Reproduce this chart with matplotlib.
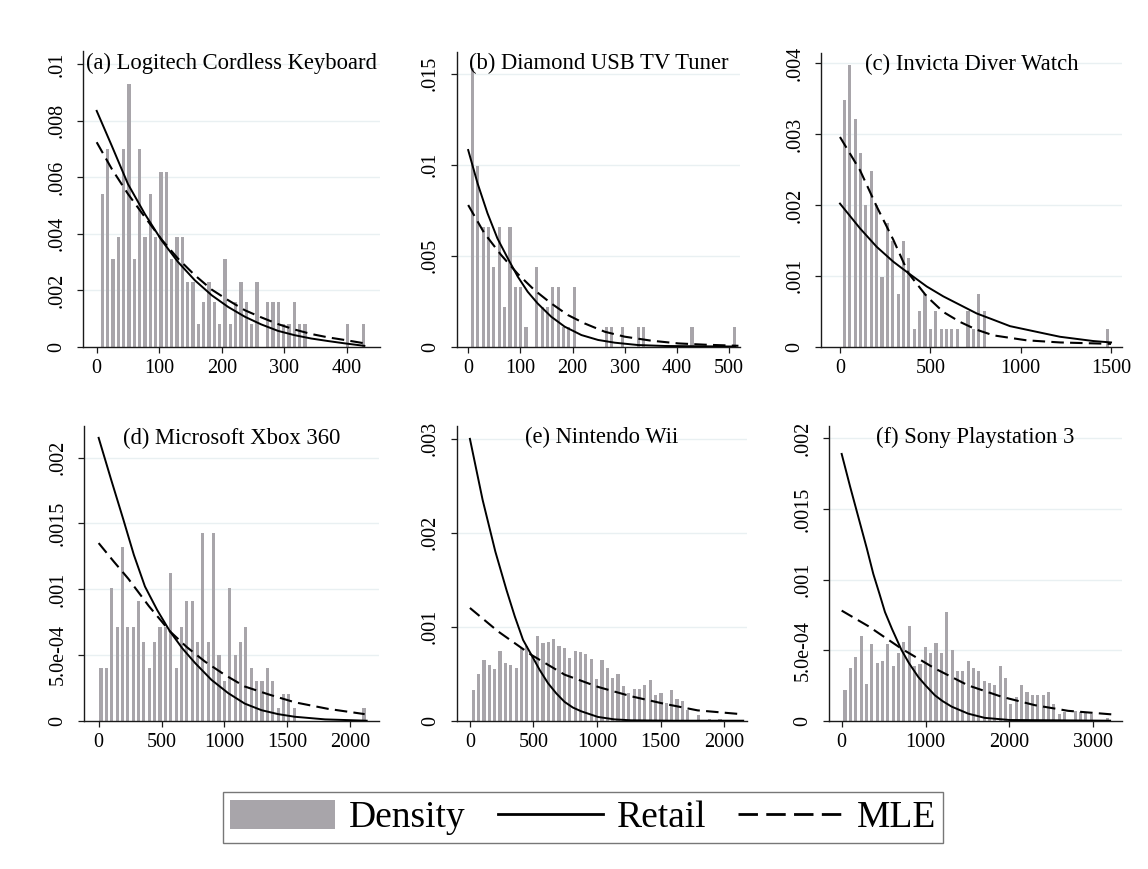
import numpy as np
import matplotlib.pyplot as plt
from matplotlib.patches import Patch
from matplotlib.lines import Line2D

plt.rcParams['font.family'] = ['Liberation Serif', 'DejaVu Serif']

# ---- data ----
titles = ['(a) Logitech Cordless Keyboard', '(b) Diamond USB TV Tuner',
          '(c) Invicta Diver Watch', '(d) Microsoft Xbox 360',
          '(e) Nintendo Wii', '(f) Sony Playstation 3']

# (a) keyboard
a_bin0, a_binw = 9.0, 8.53
a_dens = [.0054, .0070, .0031, .0039, .0070, .0093, .0031, .0070, .0039, .0054,
          .0039, .0062, .0062, .0031, .0039, .0039, .0023, .0023, .0008, .0016,
          .0023, .0016, .0008, .0031, .0008, .0016, .0023, .0016, .0008, .0023,
          0, .0016, .0016, .0016, .0008, .0008, .0016, .0008, .0008, 0,
          0, 0, 0, 0, 0, 0, .0008, 0, 0, .0008]
a_ret_x = [0, 24, 50, 77, 104, 130, 157, 184, 210, 237, 263, 290, 316, 343, 370, 396, 428]
a_ret_y = [.00835, .00712, .00576, .0047, .00376, .0030, .00235, .00182, .00141, .00106,
           .00079, .00056, .00041, .00029, .0002, .00012, .00003]
a_mle_x = [0, 24, 50, 77, 104, 130, 157, 184, 210, 237, 263, 290, 316, 343, 370, 396, 428]
a_mle_y = [.00724, .0063, .00541, .00459, .00379, .00312, .00253, .00202, .00165, .00129,
           .00104, .0008, .00061, .00045, .00033, .00024, .00012]

# (b) tv tuner
b_bin0, b_binw = 8.3, 10.26
b_dens = [.0153, .0099, .0066, .0066, .0044, .0066, .0022, .0066, .0033, .0033,
          .0011, 0, .0044, .0022, .0022, .0033, .0033, .0011, .0011, .0033,
          0, 0, 0, 0, 0, .0011, .0011, 0, .0011, 0,
          0, .0011, .0011, 0, 0, 0, 0, 0, 0, 0,
          0, .0011, 0, 0, 0, 0, 0, 0, 0, .0011]
b_ret_x = [0, 18, 37, 56, 76, 95, 114, 133, 159, 185, 217, 249, 281, 326, 377, 450, 512]
b_ret_y = [.0108, .00897, .00733, .00595, .00485, .00385, .00302, .00238, .00165, .0011,
           .00064, .00037, .00022, .00009, .00004, .00002, .00001]
b_mle_x = [0, 31, 63, 95, 127, 159, 191, 223, 262, 300, 351, 403, 454, 518]
b_mle_y = [.00778, .00623, .00504, .004, .00311, .00238, .00174, .00128, .00082, .00055,
           .00033, .00018, .00011, .00005]

# (c) watch
c_bin0, c_binw = 24.0, 29.75
c_dens = [.00348, .00398, .00322, .00273, .0020, .00248, .0020, .00099, .00174, .00149,
          .00074, .00149, .00125, .00025, .0005, .00074, .00025, .0005, .00025, .00025,
          .00025, .00025, 0, .0005, .00025, .00074, .0005, 0, 0, 0,
          0, 0, 0, 0, 0, 0, 0, 0, 0, 0,
          0, 0, 0, 0, 0, 0, 0, 0, 0, .00025]
c_ret_x = [0, 111, 203, 295, 378, 480, 572, 664, 756, 849, 941, 1033, 1125, 1218, 1310, 1402, 1500]
c_ret_y = [.00202, .00167, .00141, .0012, .00104, .00085, .00071, .00059, .00047, .00038,
           .00029, .00024, .00019, .00014, .00011, .00008, .00006]
c_mle_x = [0, 111, 203, 295, 378, 480, 572, 664, 756, 849, 1033, 1218, 1500]
c_mle_y = [.00296, .00249, .00198, .00151, .00104, .00071, .00049, .00035, .00024, .00016,
           .00009, .00006, .00004]

# (d) xbox
d_bin0, d_binw = 18.5, 42.65
d_dens = [.0004, .0004, .00101, .00071, .00132, .00071, .00071, .00091, .0006, .0004,
          .0006, .00071, .00071, .00112, .0004, .00071, .00091, .00091, .0006, .00143,
          .0006, .00143, .0005, .0003, .00101, .0005, .0006, .00071, .0004, .0003,
          .0003, .0004, .0003, .0001, .0002, .0002, .0001, 0, 0, 0,
          0, 0, 0, 0, 0, 0, 0, 0, 0, .0001]
d_ret_x = [0, 100, 196, 280, 368, 466, 566, 665, 765, 897, 1029, 1161, 1294, 1426, 1558, 1800, 2130]
d_ret_y = [.00215, .00183, .00153, .00126, .00102, .00084, .00068, .00055, .00044, .00031,
           .00021, .00013, .00008, .00005, .00003, .00001, 0]
d_mle_x = [0, 120, 235, 400, 566, 700, 844, 1000, 1161, 1350, 1558, 1823, 2114]
d_mle_y = [.00135, .00121, .00108, .00087, .00068, .00056, .00045, .00035, .00026, .0002,
           .00014, .00009, .00005]

# (e) wii
e_bin0, e_binw = 26.0, 42.2
e_dens = [.00033, .0005, .00065, .00059, .00055, .00074, .00061, .00059, .00056, .00077,
          .00079, .0007, .0009, .00083, .00084, .00087, .00079, .00077, .00067, .00074,
          .00073, .00071, .00066, .00044, .00065, .00056, .00045, .0005, .00037, .0003,
          .00034, .00034, .00038, .00043, .00027, .00029, .00019, .00033, .00023, .00021,
          .00011, 0, .00006, 0, .00002, 0, .00002, 0, 0, 0]
e_ret_x = [0, 100, 200, 288, 353, 418, 484, 549, 614, 680, 745, 810, 876, 1007, 1137, 1268, 1600, 2150]
e_ret_y = [.0030, .00235, .0018, .00139, .00111, .00086, .0007, .00054, .0004, .00029,
           .0002, .00014, .0001, .00004, .000014, .000004, 0, 0]
e_mle_x = [0, 222, 484, 745, 1007, 1268, 1529, 1791, 2131]
e_mle_y = [.0012, .00095, .0007, .00049, .00036, .00026, .00018, .00011, .00007]

# (f) ps3
f_bin0, f_binw = 40.0, 63.8
f_dens = [.00022, .00037, .00045, .0006, .00026, .00054, .00041, .00042, .00054, .00039,
          .00048, .00056, .00067, .00039, .0004, .00052, .00048, .00055, .00048, .00077,
          .0005, .00035, .00035, .00042, .00037, .00035, .00028, .00027, .00025, .00039,
          .0003, .00012, .00017, .00025, .0002, .00018, .00018, .00018, .0002, .00012,
          .00005, .00006, 0, .00007, .00006, .00006, .00005, 0, 0, .00002]
f_ret_x = [0, 100, 200, 300, 377, 450, 516, 600, 714, 800, 913, 1000, 1111, 1200, 1310,
           1508, 1706, 2000, 3200]
f_ret_y = [.00189, .00166, .00144, .00122, .00104, .0009, .00077, .00065, .0005, .00041,
           .00031, .00025, .00018, .00014, .0001, .00005, .00002, .000005, 0]
f_mle_x = [0, 317, 714, 1111, 1508, 1905, 2302, 2698, 3214]
f_mle_y = [.00078, .00067, .00051, .00037, .00025, .00017, .00011, .00007, .000045]

yticks = [[0, .002, .004, .006, .008, .01], [0, .005, .01, .015],
          [0, .001, .002, .003, .004], [0, .0005, .001, .0015, .002],
          [0, .001, .002, .003], [0, .0005, .001, .0015, .002]]
ylabels = [['0', '.002', '.004', '.006', '.008', '.01'], ['0', '.005', '.01', '.015'],
           ['0', '.001', '.002', '.003', '.004'], ['0', '5.0e-04', '.001', '.0015', '.002'],
           ['0', '.001', '.002', '.003'], ['0', '5.0e-04', '.001', '.0015', '.002']]
xticks = [[0, 100, 200, 300, 400], [0, 100, 200, 300, 400, 500], [0, 500, 1000, 1500],
          [0, 500, 1000, 1500, 2000], [0, 500, 1000, 1500, 2000], [0, 1000, 2000, 3000]]

hists = [(a_bin0, a_binw, a_dens), (b_bin0, b_binw, b_dens), (c_bin0, c_binw, c_dens),
         (d_bin0, d_binw, d_dens), (e_bin0, e_binw, e_dens), (f_bin0, f_binw, f_dens)]
retail = [(a_ret_x, a_ret_y), (b_ret_x, b_ret_y), (c_ret_x, c_ret_y),
          (d_ret_x, d_ret_y), (e_ret_x, e_ret_y), (f_ret_x, f_ret_y)]
mle = [(a_mle_x, a_mle_y), (b_mle_x, b_mle_y), (c_mle_x, c_mle_y),
       (d_mle_x, d_mle_y), (e_mle_x, e_mle_y), (f_mle_x, f_mle_y)]

# ---- layout (pixels in a 1148x869 canvas) ----
W, H = 1148, 869
# left, right, top, bottom of each plot region
boxes = [(83.3, 380, 51, 346.7), (456.7, 740, 51.7, 346.7), (821, 1121.7, 52.7, 346.7),
         (84.3, 379, 426, 720.7), (456.7, 747, 425.7, 720.7), (829, 1121.7, 425.7, 720.7)]
xlims = [(-21.4, 453), (-22, 521), (-105, 1559), (-114, 2228), (-104, 2180), (-151, 3338)]
ylims = [.01047, .0162, .00415, .00224, .00314, .00209]

BAR = '#a8a5aa'
GRID = '#e9f0f2'
DASH = (0, (6, 3))

fig = plt.figure(figsize=(W / 100, H / 100), dpi=100)

for i in range(6):
    l, r, t, b = boxes[i]
    ax = fig.add_axes([l / W, 1 - b / H, (r - l) / W, (b - t) / H])
    bin0, binw, dens = hists[i]
    centers = bin0 + binw * np.arange(len(dens))
    ax.bar(centers, dens, width=binw * 0.58, color=BAR, linewidth=0, zorder=2)
    ax.plot(*retail[i], color='black', lw=1.4, zorder=3)
    ax.plot(*mle[i], color='black', lw=1.5, ls=DASH, zorder=3)

    ax.set_xlim(*xlims[i])
    ax.set_ylim(0, ylims[i])
    ax.set_xticks(xticks[i])
    ax.set_yticks(yticks[i])
    ax.set_yticklabels(ylabels[i], rotation=90, va='center')
    for yv in yticks[i][1:]:
        ax.axhline(yv, color=GRID, lw=1, zorder=1)
    for s in ['top', 'right']:
        ax.spines[s].set_visible(False)
    for s in ['left', 'bottom']:
        ax.spines[s].set_linewidth(1.0)
        ax.spines[s].set_color('#1a1a1a')
    ax.tick_params(direction='out', length=4, width=0.9, labelsize=14.5,
                   color='#1a1a1a')
    ax.tick_params(axis='x', pad=5)
    ax.tick_params(axis='y', pad=8)
    ax.text(0.5, 1 - 12 / (b - t), titles[i], transform=ax.transAxes,
            ha='center', va='center', fontsize=16.3, zorder=4)

handles = [Patch(facecolor=BAR, edgecolor='none'),
           Line2D([], [], color='black', lw=2),
           Line2D([], [], color='black', lw=2, ls=(0, (7, 3)))]
leg = fig.legend(handles, ['Density', 'Retail', 'MLE'], loc='center',
                 bbox_to_anchor=(583 / W, 1 - 817.5 / H), ncol=3, fontsize=27,
                 frameon=True, fancybox=False, edgecolor='#555555',
                 handlelength=2.8, handleheight=0.8, handletextpad=0.37,
                 columnspacing=0.85, borderpad=0.2, borderaxespad=0)
leg.get_frame().set_linewidth(1.0)

fig.savefig('out.png', dpi=100, facecolor='white')
